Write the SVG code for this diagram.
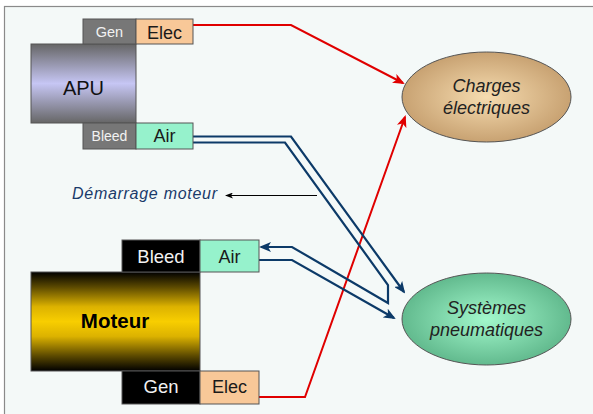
<svg xmlns="http://www.w3.org/2000/svg" width="593" height="414" viewBox="0 0 593 414">
<style>
text{font-family:"Liberation Sans",Arial,sans-serif;text-anchor:middle}
.box{stroke:#555;stroke-width:1}
.gray{fill:#777}
.blk{fill:#000}
.elec{fill:#f8c898}
.air{fill:#96f2cc}
.wt{fill:#f2f2f2}
.dk{fill:#1a1a1a}
.ell{stroke:#555;stroke-width:1}
.it{font-style:italic;font-size:18px;fill:#222}
.red{fill:none;stroke:#e00000;stroke-width:2}
.blue{fill:none;stroke:#0c3a68;stroke-width:2.2;stroke-linejoin:miter}
</style>
<defs>
<linearGradient id="gApu" x1="0" y1="0" x2="0" y2="1">
<stop offset="0" stop-color="#666"/>
<stop offset="0.5" stop-color="#c6c6f4"/>
<stop offset="1" stop-color="#666"/>
</linearGradient>
<linearGradient id="gMot" x1="0" y1="0" x2="0" y2="1">
<stop offset="0" stop-color="#000"/>
<stop offset="0.15" stop-color="#5a4800"/>
<stop offset="0.35" stop-color="#dcb200"/>
<stop offset="0.5" stop-color="#f8ce00"/>
<stop offset="0.65" stop-color="#dcb200"/>
<stop offset="0.85" stop-color="#5a4800"/>
<stop offset="1" stop-color="#000"/>
</linearGradient>
<radialGradient id="gCh" cx="0.5" cy="0.5" r="0.5">
<stop offset="0" stop-color="#f6dcb0"/>
<stop offset="1" stop-color="#c8a272"/>
</radialGradient>
<radialGradient id="gPn" cx="0.5" cy="0.5" r="0.5">
<stop offset="0" stop-color="#a2f8cc"/>
<stop offset="1" stop-color="#62ba8e"/>
</radialGradient>
<marker id="aR" viewBox="0 0 12 10" refX="10" refY="5" markerWidth="12" markerHeight="10" markerUnits="userSpaceOnUse" orient="auto">
<path d="M0,0 L12,5 L0,10 L3,5 z" fill="#e00000"/>
</marker>
<marker id="aB" viewBox="0 0 12 10" refX="10" refY="5" markerWidth="12" markerHeight="10" markerUnits="userSpaceOnUse" orient="auto">
<path d="M0,0 L12,5 L0,10 L3,5 z" fill="#0c3a68"/>
</marker>
<marker id="aK" viewBox="0 0 8 6" refX="7" refY="3" markerWidth="8" markerHeight="6" markerUnits="userSpaceOnUse" orient="auto">
<path d="M0,0 L8,3 L0,6 L2,3 z" fill="#000"/>
</marker>
</defs>
<rect x="0" y="0" width="593" height="414" fill="#fff"/>
<rect x="4.5" y="6.5" width="620" height="420" fill="#f4f9f8" stroke="#8a8a8a" stroke-width="1.2"/>

<g id="connectors">
<path class="red" d="M193,25 H291 L403,83" marker-end="url(#aR)"/>
<path class="red" d="M259,397 H305 L405,117" marker-end="url(#aR)"/>
<path class="blue" d="M193,136.5 H291 L404,292" marker-end="url(#aB)"/>
<path class="blue" d="M193,142.5 H285 L388,285 V303 L292,247 H261" marker-end="url(#aB)"/>
<path class="blue" d="M259,260 H292 L394,318" marker-end="url(#aB)"/>
<path d="M317,195.5 H226" stroke="#000" stroke-width="1" fill="none" marker-end="url(#aK)"/>
</g>

<g id="apu">
<rect class="box" x="31" y="44" width="105" height="79" fill="url(#gApu)"/>
<text x="83.5" y="95" font-size="20" fill="#111">APU</text>
</g>
<g id="apu-gen">
<rect class="box gray" x="83" y="19" width="53" height="25"/>
<text class="wt" x="109.5" y="37" font-size="14.5">Gen</text>
</g>
<g id="apu-elec">
<rect class="box elec" x="136" y="19" width="57" height="25"/>
<text class="dk" x="164.5" y="39" font-size="18">Elec</text>
</g>
<g id="apu-bleed">
<rect class="box gray" x="83" y="123" width="53" height="26"/>
<text class="wt" x="109.5" y="141" font-size="14">Bleed</text>
</g>
<g id="apu-air">
<rect class="box air" x="136" y="123" width="57" height="26"/>
<text class="dk" x="164.5" y="142" font-size="18">Air</text>
</g>

<g id="moteur">
<rect class="box" x="31" y="272" width="169" height="99" fill="url(#gMot)"/>
<text x="115" y="328" font-size="20.5" font-weight="bold" fill="#000">Moteur</text>
</g>
<g id="moteur-bleed">
<rect class="box blk" x="122" y="240" width="78" height="32"/>
<text class="wt" x="161" y="263" font-size="18.5">Bleed</text>
</g>
<g id="moteur-air">
<rect class="box air" x="200" y="240" width="59" height="32"/>
<text class="dk" x="229.5" y="263" font-size="18">Air</text>
</g>
<g id="moteur-gen">
<rect class="box blk" x="122" y="371" width="78" height="33"/>
<text class="wt" x="161" y="393" font-size="18.5">Gen</text>
</g>
<g id="moteur-elec">
<rect class="box elec" x="200" y="371" width="59" height="33"/>
<text class="dk" x="229.5" y="393" font-size="18">Elec</text>
</g>

<g id="charges">
<ellipse class="ell" cx="486.5" cy="97" rx="84.5" ry="45" fill="url(#gCh)"/>
<text class="it" x="486.5" y="92">Charges</text>
<text class="it" x="486.5" y="114">électriques</text>
</g>
<g id="pneumatiques">
<ellipse class="ell" cx="486.5" cy="319" rx="84.5" ry="46" fill="url(#gPn)"/>
<text class="it" x="486.5" y="314">Systèmes</text>
<text class="it" x="486.5" y="336">pneumatiques</text>
</g>
<g id="demarrage">
<text x="72" y="199" font-size="16" font-style="italic" fill="#1a3a6a" style="text-anchor:start" textLength="145">Démarrage moteur</text>
</g>
</svg>
